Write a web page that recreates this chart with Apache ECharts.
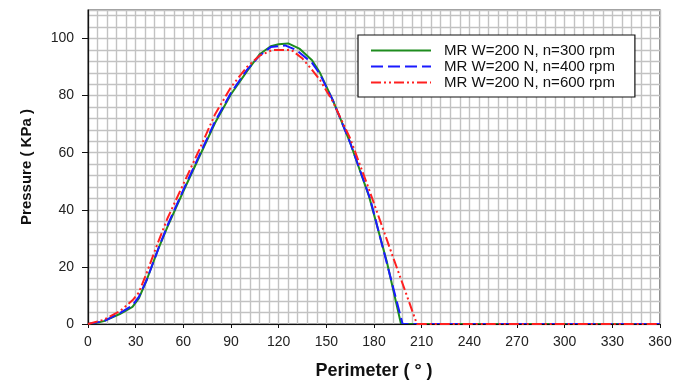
<!DOCTYPE html>
<html>
<head>
<meta charset="utf-8">
<script src="https://cdn.jsdelivr.net/npm/echarts@6/dist/echarts.min.js"></script>
<style>html,body{margin:0;padding:0;background:#fff}#c{width:682px;height:385px}</style>
</head>
<body>
<div id="c"></div>
<script>
var xTicks = [0, 30, 60, 90, 120, 150, 180, 210, 240, 270, 300, 330, 360];
var yTicks = [0, 20, 40, 60, 80, 100];
var seriesNames = ['MR W=200 N, n=300 rpm', 'MR W=200 N, n=400 rpm', 'MR W=200 N, n=600 rpm'];
var green300 = [[0,0],[5,0.3],[10,1],[20,3.5],[28,6],[32,9],[37,15.5],[44,26],[50,34],[60,46.5],[70,58.5],[80,70.5],[90,80.5],[100,88.5],[108,94.5],[115,97.3],[120,98],[126,98.3],[133,96.5],[141,92.4],[146,88],[154,78.5],[165,63.5],[177,44.5],[188,22],[197,0],[220,0],[250,0],[280,0],[310,0],[340,0],[360,0]];
var blue400 = [[0,0],[10,1],[20,3.8],[28,6.5],[32,9.5],[37,15.5],[44,26],[50,34.5],[60,47],[70,59],[80,71],[90,81],[100,89],[108,94],[115,97],[124,97.6],[131,96],[141,91.5],[146,87.5],[154,78.5],[165,63.5],[177.5,44],[188,21.5],[198,0],[220,0],[250,0],[280,0],[310,0],[340,0],[360,0]];
var red600 = [[0,0],[10,1.5],[20,4.5],[28,8.3],[32,11],[37,18],[44,28.5],[50,37],[60,49],[70,61],[80,73.5],[90,83],[100,90],[108,94],[116,96],[128,96],[135,93],[141,89],[146,85.5],[154,78],[165,65],[176,48.5],[190,26.5],[200,11],[207,0],[230,0],[260,0],[290,0],[320,0],[360,0]];

var chart = echarts.init(document.getElementById('c'));
var fam = 'Liberation Sans, Arial, sans-serif';
var labelFont = {fontFamily: fam, fontSize: 14, color: '#222'};
var gridLine = {show: true, lineStyle: {color: '#c2c2c2', width: 1.4}};
chart.setOption({
  animation: false,
  backgroundColor: '#fff',
  grid: {left: 88, right: 22, top: 10, bottom: 58, show: true, borderColor: '#333', borderWidth: 1.2, backgroundColor: 'transparent'},
  legend: {
    orient: 'vertical', left: 358, top: 35,
    backgroundColor: '#fff', borderColor: '#111', borderWidth: 1.2,
    padding: [8, 20, 7, 12], itemGap: 1, itemWidth: 60, itemHeight: 14,
    itemStyle: {color: 'rgba(0,0,0,0)', borderColor: 'rgba(0,0,0,0)', borderWidth: 0},
    textStyle: {fontFamily: fam, fontSize: 15, color: '#111', padding: [0, 0, 0, 8]},
    data: seriesNames
  },
  xAxis: [{
    type: 'value', min: 0, max: 360, interval: 30,
    name: 'Perimeter ( \u00b0 )', nameLocation: 'middle', nameGap: 38,
    nameTextStyle: {fontFamily: fam, fontSize: 18, fontWeight: 'bold', color: '#111'},
    axisLine: {lineStyle: {color: '#111', width: 1.2}},
    axisTick: {show: true, length: 4, customValues: xTicks, lineStyle: {color: '#111'}},
    axisLabel: Object.assign({margin: 11, customValues: xTicks}, labelFont),
    splitLine: {show: false}, z: 5
  }, {
    type: 'value', min: 0, max: 360, interval: 6, position: 'bottom',
    axisLine: {show: false}, axisTick: {show: false}, axisLabel: {show: false},
    splitLine: gridLine, z: 0
  }],
  yAxis: [{
    type: 'value', min: 0, max: 110, interval: 20,
    name: 'Pressure ( KPa )', nameLocation: 'middle', nameGap: 54,
    nameTextStyle: {fontFamily: fam, fontSize: 15, fontWeight: 'bold', color: '#111'},
    axisLine: {show: true, lineStyle: {color: '#111', width: 1.2}},
    axisTick: {show: true, length: 6, customValues: yTicks, lineStyle: {color: '#111'}},
    axisLabel: Object.assign({margin: 14, customValues: yTicks}, labelFont),
    splitLine: {show: false}, z: 5
  }, {
    type: 'value', min: 0, max: 110, interval: 4, position: 'left',
    axisLine: {show: false}, axisTick: {show: false}, axisLabel: {show: false},
    splitLine: gridLine, z: 0
  }],
  series: [
    {name: seriesNames[0], type: 'line', data: green300, symbol: 'none', color: '#1e8c1e', lineStyle: {width: 2, color: '#1e8c1e', type: 'solid'}, z: 3},
    {name: seriesNames[1], type: 'line', data: blue400, symbol: 'none', color: '#1a1aff', lineStyle: {width: 2, color: '#1a1aff', type: [12, 5]}, z: 4},
    {name: seriesNames[2], type: 'line', data: red600, symbol: 'none', color: '#ff2020', lineStyle: {width: 2, color: '#ff2020', type: [10, 3, 2, 3, 2, 3]}, z: 5}
  ]
});
</script>
</body>
</html>
